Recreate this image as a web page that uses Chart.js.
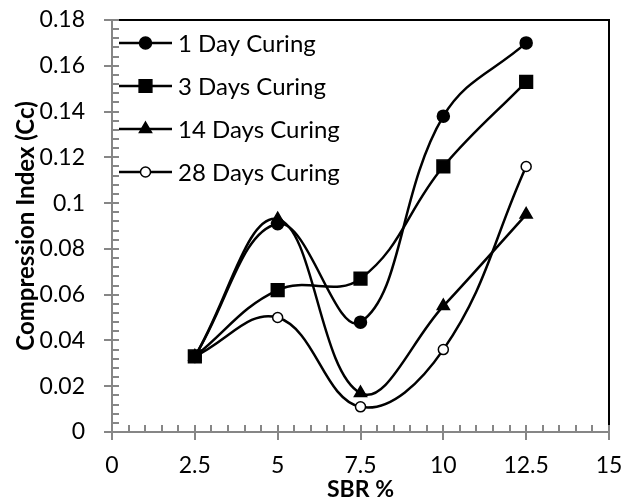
<!DOCTYPE html>
<html>
<head>
<meta charset="utf-8">
<script src="https://cdn.jsdelivr.net/npm/chart.js@4.4.1/dist/chart.umd.min.js"></script>
<style>
  html, body { margin: 0; padding: 0; background: #fff; }
  #wrap { width: 624px; height: 501px; }
</style>
</head>
<body>
<div id="wrap"><canvas id="cc"></canvas></div>
<script>
const sbr = [2.5, 5, 7.5, 10, 12.5];
const day1 = [0.033, 0.091, 0.048, 0.138, 0.170];
const day3 = [0.033, 0.062, 0.067, 0.116, 0.153];
const day14 = [0.033, 0.093, 0.017, 0.055, 0.095];
const day28 = [0.033, 0.050, 0.011, 0.036, 0.116];
const seriesNames = ['1 Day Curing', '3 Days Curing', '14 Days Curing', '28 Days Curing'];

const FONT = 'Lato';
const AXIS_GRAY = '#868686';

function pts(ys) {
    return sbr.map((x, i) => ({ x: x, y: ys[i] }));
}

function fmt(v) {
    return String(+Number(v).toFixed(3));
}

// frame, axis lines and tick marks (major + minor)
const axisPlugin = {
    id: 'axisPlugin',
    beforeDatasetsDraw(chart) {
        const { ctx, chartArea: a, scales } = chart;
        const xs = scales.x, ys = scales.y;
        ctx.save();
        ctx.lineWidth = 2;
        ctx.strokeStyle = '#000';
        ctx.beginPath();
        ctx.moveTo(a.left, a.top);
        ctx.lineTo(a.right, a.top);
        ctx.lineTo(a.right, a.bottom);
        ctx.stroke();

        ctx.strokeStyle = AXIS_GRAY;
        ctx.beginPath();
        ctx.moveTo(a.left, a.top);
        ctx.lineTo(a.left, a.bottom);
        ctx.moveTo(a.left, a.bottom);
        ctx.lineTo(a.right, a.bottom);

        // y minor every 0.004, major every 0.02
        for (let i = 0; i <= 45; i++) {
            const py = Math.round(ys.getPixelForValue(i * 0.004));
            if (i % 5 === 0) {
                ctx.moveTo(a.left - 8, py);
                ctx.lineTo(a.left + 7, py);
            } else {
                ctx.moveTo(a.left, py);
                ctx.lineTo(a.left + 7, py);
            }
        }
        // x minor every 0.5, major every 2.5
        for (let i = 0; i <= 30; i++) {
            const px = Math.round(xs.getPixelForValue(i * 0.5));
            if (i % 5 === 0) {
                ctx.moveTo(px, a.bottom - 7);
                ctx.lineTo(px, a.bottom + 8);
            } else {
                ctx.moveTo(px, a.bottom - 7);
                ctx.lineTo(px, a.bottom);
            }
        }
        ctx.stroke();
        ctx.restore();
    }
};

// legend drawn inside the plot area: line - marker - line, then label
const innerLegend = {
    id: 'innerLegend',
    afterDatasetsDraw(chart) {
        const { ctx, chartArea: a } = chart;
        ctx.save();
        chart.data.datasets.forEach((ds, i) => {
            const y = a.top + 23 + i * 43;
            const x0 = a.left + 7, x1 = a.left + 60, xm = (x0 + x1) / 2;
            ctx.strokeStyle = '#000';
            ctx.lineWidth = 2.5;
            ctx.beginPath();
            ctx.moveTo(x0, y);
            ctx.lineTo(x1, y);
            ctx.stroke();
            ctx.fillStyle = ds.pointBackgroundColor;
            ctx.strokeStyle = ds.pointBorderColor;
            ctx.lineWidth = ds.pointBorderWidth;
            Chart.helpers.drawPoint(ctx, {
                pointStyle: ds.pointStyle,
                radius: ds.pointRadius,
                borderWidth: ds.pointBorderWidth,
                rotation: 0
            }, xm, y);
            ctx.fillStyle = '#000';
            ctx.font = '24px ' + FONT;
            ctx.textBaseline = 'middle';
            ctx.textAlign = 'left';
            ctx.fillText(ds.label, x1 + 6, y + 1);
        });
        ctx.restore();
    }
};

function makeSet(label, ys, style, radius, fill) {
    return {
        label: label,
        data: pts(ys),
        borderColor: '#000',
        borderWidth: 2.5,
        tension: 0.4,
        pointStyle: style,
        pointRadius: radius,
        pointHoverRadius: radius,
        pointBackgroundColor: fill,
        pointBorderColor: '#000',
        pointBorderWidth: 1.5
    };
}

const ctx = document.getElementById('cc').getContext('2d');
new Chart(ctx, {
    type: 'line',
    data: {
        datasets: [
            makeSet(seriesNames[0], day1, 'circle', 6, '#000'),
            makeSet(seriesNames[1], day3, 'rect', 9, '#000'),
            makeSet(seriesNames[2], day14, 'triangle', 7, '#000'),
            makeSet(seriesNames[3], day28, 'circle', 5, '#fff')
        ]
    },
    options: {
        responsive: true,
        maintainAspectRatio: false,
        animation: false,
        layout: { padding: { left: 0, right: 15, top: 20, bottom: 0 } },
        plugins: {
            legend: { display: false },
            tooltip: { enabled: false }
        },
        scales: {
            x: {
                type: 'linear',
                min: 0,
                max: 15,
                afterFit: s => {
                    s.height = 69;
                    s.paddingLeft = 0;
                    s.paddingRight = 0;
                },
                afterBuildTicks: s => {
                    s.ticks = [0, 2.5, 5, 7.5, 10, 12.5, 15].map(v => ({ value: v }));
                },
                grid: { display: false, drawTicks: false },
                border: { display: false },
                ticks: {
                    color: '#000',
                    font: { family: FONT, size: 23 },
                    padding: 20,
                    maxRotation: 0,
                    callback: v => fmt(v)
                },
                title: {
                    display: true,
                    text: 'SBR %',
                    color: '#000',
                    font: { family: FONT, size: 23, weight: 'bold', lineHeight: 1 },
                    padding: { top: 0, bottom: 0 }
                }
            },
            y: {
                min: 0,
                max: 0.18,
                afterFit: s => {
                    s.width = 112;
                    s.paddingTop = 0;
                    s.paddingBottom = 0;
                },
                ticks: {
                    stepSize: 0.02,
                    color: '#000',
                    font: { family: FONT, size: 23 },
                    padding: 27,
                    callback: v => fmt(v)
                },
                grid: { display: false, drawTicks: false },
                border: { display: false },
                title: {
                    display: true,
                    text: 'Compression Index (Cc)',
                    color: '#000',
                    font: { family: FONT, size: 24, weight: 'bold', lineHeight: 1.2 },
                    padding: { top: 12, bottom: 0 }
                }
            }
        }
    },
    plugins: [axisPlugin, innerLegend]
});
</script>
</body>
</html>
